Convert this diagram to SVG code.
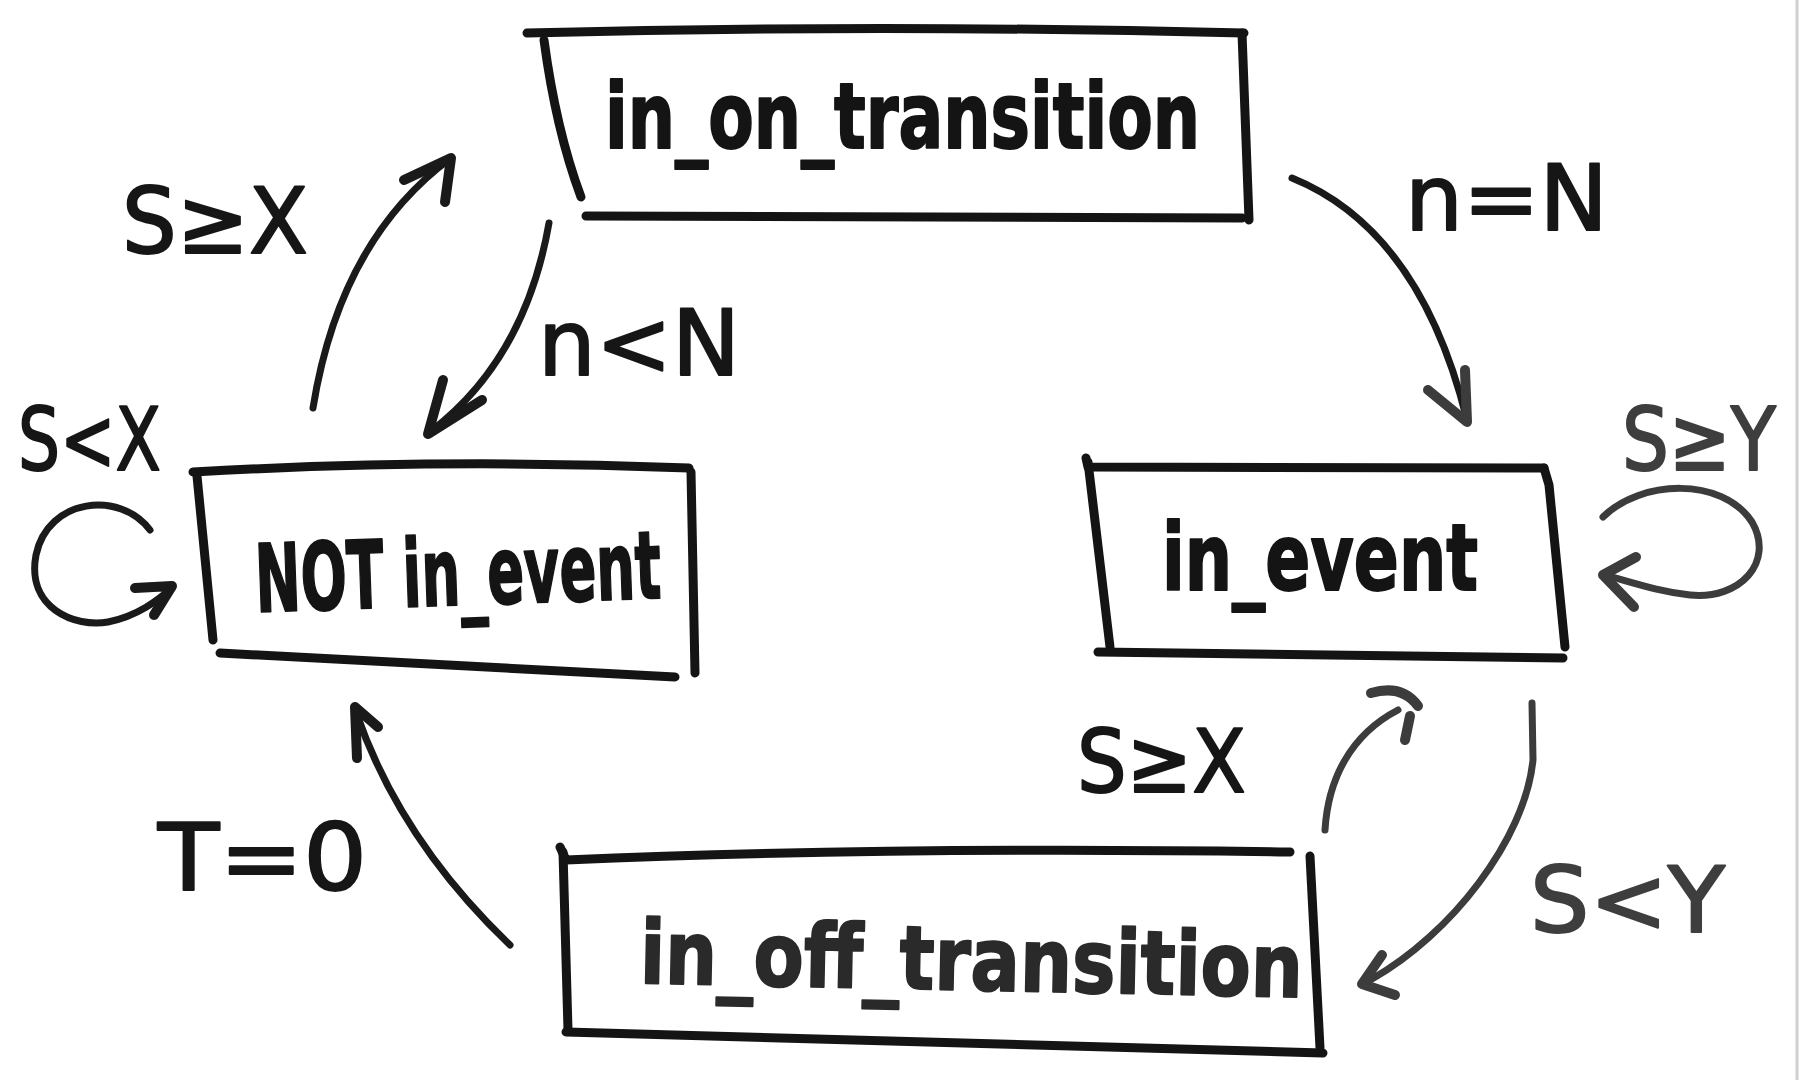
<svg xmlns="http://www.w3.org/2000/svg" width="1804" height="1080" viewBox="0 0 1804 1080">
<style>
.bg{fill:#ffffff}
.box{fill:none;stroke:#141414;stroke-width:9;stroke-linecap:round;stroke-linejoin:round}
.edge{fill:none;stroke:#1a1a1a;stroke-width:7;stroke-linecap:round;stroke-linejoin:round}
.head{fill:none;stroke:#1a1a1a;stroke-width:10;stroke-linecap:round;stroke-linejoin:round}
.gray{stroke:#3c3c3c}
.node{font-family:"DejaVu Sans","Liberation Sans",sans-serif;font-weight:bold;fill:#141414;stroke:#141414;stroke-width:2;stroke-linejoin:round}
.lbl{font-family:"DejaVu Sans","Liberation Sans",sans-serif;fill:#161616;stroke:#161616;stroke-width:2;stroke-linejoin:round}
.lblg{fill:#3e3e3e;stroke:#3e3e3e}
</style>
<rect class="bg" x="0" y="0" width="1804" height="1080"/>
<line x1="1797" y1="0" x2="1797" y2="1080" stroke="#cfcfcf" stroke-width="3"/>

<g id="in_on_transition">
  <path class="box" d="M527,33 Q880,24 1244,33"/>
  <path class="box" d="M544,40 Q556,130 581,197"/>
  <path class="box" d="M586,216 L1242,218"/>
  <path class="box" d="M1242,33 L1249,220"/>
  <text class="node" x="605" y="148" font-size="90" textLength="595" lengthAdjust="spacingAndGlyphs">in_on_transition</text>
</g>

<g id="not_in_event">
  <path class="box" d="M193,472 Q440,458 689,468"/>
  <path class="box" d="M197,476 L213,640"/>
  <path class="box" d="M220,653 L675,677"/>
  <path class="box" d="M691,472 L695,673"/>
  <text class="node" x="255" y="605" font-size="94" textLength="406" lengthAdjust="spacingAndGlyphs" transform="rotate(-2 458 575)">NOT in_event</text>
</g>

<g id="in_event">
  <path class="box" d="M1086,458 L1088,467 L1544,468"/>
  <path class="box" d="M1088,462 L1110,647"/>
  <path class="box" d="M1544,468 L1549,485 L1565,647"/>
  <path class="box" d="M1098,652 L1563,658"/>
  <text class="node" x="1162" y="590" font-size="92" textLength="316" lengthAdjust="spacingAndGlyphs">in_event</text>
</g>

<g id="in_off_transition">
  <path class="box" d="M560,847 L566,860 Q900,846 1290,852"/>
  <path class="box" d="M563,852 L568,1030"/>
  <path class="box" d="M566,1032 L1323,1053"/>
  <path class="box" d="M1310,856 L1320,1048"/>
  <text class="node" x="640" y="990" font-size="88" textLength="663" lengthAdjust="spacingAndGlyphs" transform="rotate(1.2 970 960)" style="fill:#2a2a2a;stroke:#2a2a2a">in_off_transition</text>
</g>

<g id="connectors">
  <path class="edge" d="M313,408 Q340,240 451,158"/>
  <path class="head" d="M404,180 L451,158 L445,202"/>
  <path class="edge" d="M549,223 Q525,360 430,432"/>
  <path class="head" d="M443,380 L428,434 L482,400"/>
  <path class="edge" d="M1292,178 Q1420,230 1467,420"/>
  <path class="head gray" d="M1428,390 L1467,422 L1465,370"/>
  <path class="edge" d="M150,530 C120,490 48,498 36,555 C26,608 75,628 108,622 C138,616 158,600 172,588"/>
  <path class="head" d="M135,588 L172,586 L154,615"/>
  <path class="edge gray" d="M1603,517 C1640,480 1722,476 1752,522 C1775,562 1740,600 1690,595 C1662,592 1640,585 1612,577"/>
  <path class="head gray" d="M1636,557 L1603,575 L1634,607"/>
  <path class="edge gray" d="M1325,830 C1328,780 1350,735 1398,710"/>
  <path class="head gray" d="M1371,693 Q1402,684 1418,706"/>
  <path class="head gray" d="M1410,716 L1405,740"/>
  <path class="edge gray" d="M1532,703 L1533,760 C1525,840 1450,935 1372,979"/>
  <path class="head gray" d="M1382,955 L1362,984 L1395,995" fill="#3c3c3c"/>
  <path class="edge" d="M510,945 Q400,840 356,712"/>
  <path class="head" d="M378,727 L355,707 L357,758"/>
  <text class="lbl" x="122" y="253" font-size="90" textLength="186" lengthAdjust="spacingAndGlyphs">S≥X</text>
  <text class="lbl" x="538" y="375" font-size="90" textLength="202" lengthAdjust="spacingAndGlyphs">n&lt;N</text>
  <text class="lbl" x="1405" y="230" font-size="90" textLength="203" lengthAdjust="spacingAndGlyphs">n=N</text>
  <text class="lbl" x="18" y="470" font-size="88" textLength="143" lengthAdjust="spacingAndGlyphs">S&lt;X</text>
  <text class="lbl lblg" x="1622" y="470" font-size="88" textLength="154" lengthAdjust="spacingAndGlyphs">S≥Y</text>
  <text class="lbl" x="1077" y="792" font-size="88" textLength="169" lengthAdjust="spacingAndGlyphs">S≥X</text>
  <text class="lbl lblg" x="1530" y="932" font-size="90" textLength="195" lengthAdjust="spacingAndGlyphs">S&lt;Y</text>
  <text class="lbl" x="158" y="890" font-size="92" textLength="209" lengthAdjust="spacingAndGlyphs">T=0</text>
</g>
</svg>
